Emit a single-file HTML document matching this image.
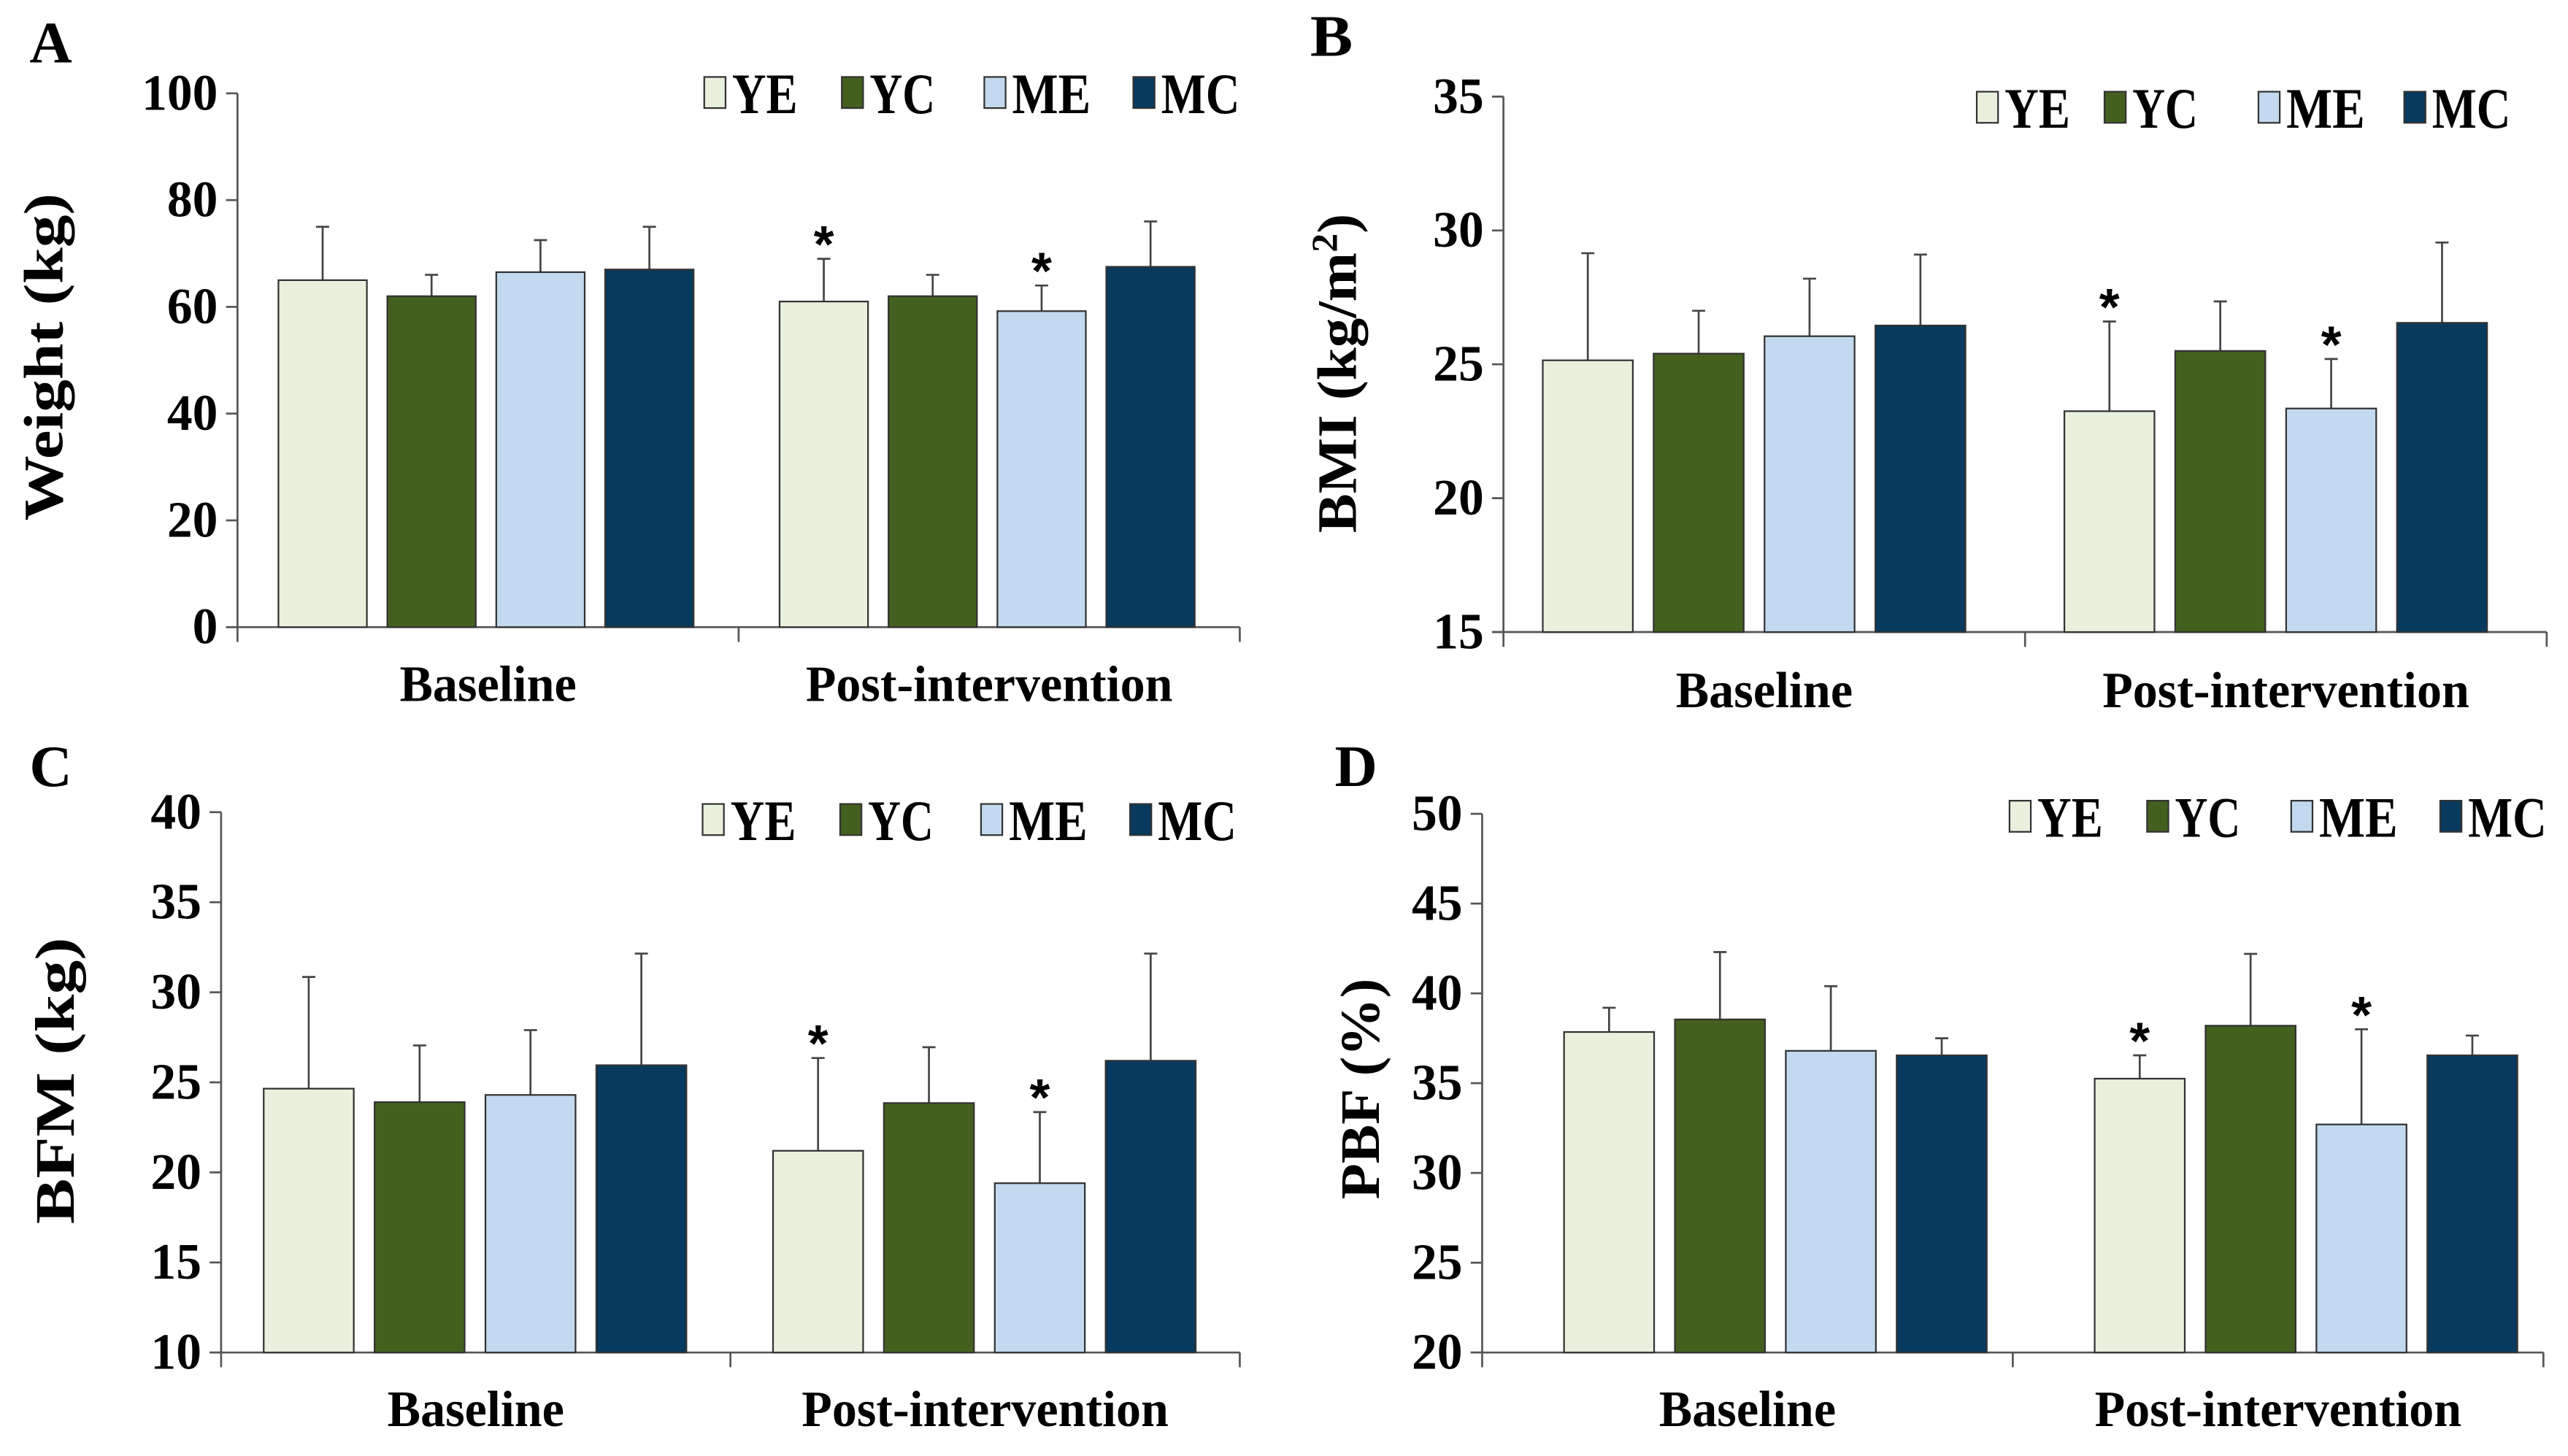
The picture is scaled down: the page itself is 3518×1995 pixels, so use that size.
<!DOCTYPE html>
<html><head><meta charset="utf-8"><style>
html,body{margin:0;padding:0;background:#fff;}
svg{display:block;}
text{font-family:"Liberation Serif",serif;font-weight:bold;fill:#000;}
</style></head>
<body>
<svg id="fig" width="3518" height="1995" viewBox="0 0 1568 889.2" xmlns="http://www.w3.org/2000/svg"></svg>
<script>
const groups = ["YE","YC","ME","MC"];
const categories = ["Baseline","Post-intervention"];
const colors = ["#e9f0de","#44601e","#c3d9ef","#073a5e"];

const weightMeans = [[65,62,66.5,67],[61,62,59.2,67.5]];
const weightErr = [[75,66,72.5,75],[69,66,64,76]];
const weightTicks = [0,20,40,60,80,100];
const weightStars = [[false,false,false,false],[true,false,true,false]];

const bmiMeans = [[25.15,25.4,26.05,26.45],[23.25,25.5,23.35,26.55]];
const bmiErr = [[29.15,27,28.2,29.1],[26.6,27.35,25.2,29.55]];
const bmiTicks = [15,20,25,30,35];
const bmiStars = [[false,false,false,false],[true,false,true,false]];

const bfmMeans = [[24.65,23.9,24.3,25.95],[21.2,23.85,19.4,26.2]];
const bfmErr = [[30.85,27.05,27.9,32.15],[26.35,26.95,23.35,32.15]];
const bfmTicks = [10,15,20,25,30,35,40];
const bfmStars = [[false,false,false,false],[true,false,true,false]];

const pbfMeans = [[37.85,38.55,36.8,36.55],[35.25,38.2,32.7,36.55]];
const pbfErr = [[39.2,42.3,40.4,37.5],[36.55,42.2,38,37.65]];
const pbfTicks = [20,25,30,35,40,45,50];
const pbfStars = [[false,false,false,false],[true,false,true,false]];

const NS="http://www.w3.org/2000/svg";
const svg=document.getElementById('fig');
function mk(tag,attrs,parent){const e=document.createElementNS(NS,tag);for(const k in attrs)e.setAttribute(k,attrs[k]);(parent||svg).appendChild(e);return e;}

function panel(cfg){
  const g=mk('g',{});
  
  
  const min=cfg.ticks[0],max=cfg.ticks[cfg.ticks.length-1];
  const y=v=>cfg.y0-(v-min)/(max-min)*(cfg.y0-cfg.y1);
  const L=mk('text',{x:cfg.lx,y:cfg.ly,'font-size':36,textLength:26,lengthAdjust:'spacingAndGlyphs'},g);L.textContent=cfg.letter;
  
  
  const ya=mk('line',{x1:cfg.ax,y1:cfg.y1,x2:cfg.ax,y2:cfg.y0+9,stroke:'#555','stroke-width':1.2},g);
  
  
  const xa=mk('line',{x1:cfg.ax-7,y1:cfg.y0,x2:cfg.xe,y2:cfg.y0,stroke:'#555','stroke-width':1.2},g);
  
  
  const mid=(cfg.ax+cfg.xe)/2;
  [mid,cfg.xe].forEach(xx=>mk('line',{x1:xx,y1:cfg.y0,x2:xx,y2:cfg.y0+9,stroke:'#555','stroke-width':1.2},g));
  cfg.ticks.forEach(t=>{
    mk('line',{x1:cfg.ax-7,y1:y(t),x2:cfg.ax,y2:y(t),stroke:'#555','stroke-width':1.2},g);
    const s=String(t);
    const tx=mk('text',{x:cfg.ax-12,y:y(t)+10,'font-size':31,'text-anchor':'end',textLength:s.length*15.5,lengthAdjust:'spacingAndGlyphs'},g);
    tx.textContent=s;
    
    
  });
  const gw=(cfg.xe-cfg.ax)/2;
  categories.forEach((c,ci)=>{
    const gx=cfg.ax+ci*gw+cfg.pad;
    const bw=cfg.bw, step=cfg.step;
    cfg.means[ci].forEach((m,si)=>{
      const bx=gx+si*step, cx=bx+bw/2;
      const eb=mk('line',{x1:cx,y1:y(cfg.err[ci][si]),x2:cx,y2:y(m),stroke:'#444','stroke-width':1.2},g);
      
      
      mk('line',{x1:cx-4,y1:y(cfg.err[ci][si]),x2:cx+4,y2:y(cfg.err[ci][si]),stroke:'#444','stroke-width':1.2},g);
      const r=mk('rect',{x:bx,y:y(m),width:bw,height:cfg.y0-y(m),fill:colors[si],stroke:'#333','stroke-width':1},g);
      
      
      if(cfg.stars[ci][si]){
        const s=mk('text',{x:cx,y:y(cfg.err[ci][si])+2,'font-size':32,'text-anchor':'middle','font-weight':'normal'},g);
        s.style.fontFamily='"Liberation Sans",sans-serif';
        s.textContent='*';
        
        
      }
    });
    const cl=mk('text',{x:cfg.ax+ci*gw+gw/2,y:cfg.cy,'font-size':31,'text-anchor':'middle',textLength:ci?224:108,lengthAdjust:'spacingAndGlyphs'},g);
    cl.textContent=c;
    
    
  });
  groups.forEach((gn,i)=>{
    const bx=cfg.legx[i];
    const lb=mk('rect',{x:bx,y:cfg.legy-9,width:13,height:19,fill:colors[i],stroke:'#333','stroke-width':1},g);
    
    
    const lt=mk('text',{x:bx+17,y:cfg.legy+13,'font-size':35,textLength:gn[0]=='M'?48:40,lengthAdjust:'spacingAndGlyphs'},g);
    lt.textContent=gn;
    
    
  });
  const yt=mk('text',{x:0,y:0,'font-size':34,'text-anchor':'middle',textLength:cfg.tl,lengthAdjust:'spacingAndGlyphs',transform:`translate(${cfg.tx},${cfg.ty}) rotate(-90)`},g);
  yt.innerHTML=cfg.title;
  
  
}

panel({letter:'A',lx:18,ly:38,ax:145,xe:757,y0:383,y1:57,ticks:weightTicks,means:weightMeans,err:weightErr,stars:weightStars,pad:25,step:66.5,bw:54,cy:428,legx:[430,514,601,692],legy:56,tx:38,ty:218,tl:200,title:'Weight (kg)'});
panel({letter:'B',lx:800,ly:34,ax:918,xe:1555,y0:386,y1:59,ticks:bmiTicks,means:bmiMeans,err:bmiErr,stars:bmiStars,pad:24,step:67.7,bw:55,cy:432,legx:[1207,1285,1379,1468],legy:65,tx:828,ty:228,tl:195,title:'BMI (kg/m<tspan font-size="22" dy="-12">2</tspan><tspan dy="12">)</tspan>'});
panel({letter:'C',lx:18,ly:480,ax:135,xe:757,y0:826,y1:496,ticks:bfmTicks,means:bfmMeans,err:bfmErr,stars:bfmStars,pad:26,step:67.7,bw:55,cy:871,legx:[429,513,599,690],legy:500,tx:45,ty:660,tl:175,title:'BFM (kg)'});
panel({letter:'D',lx:815,ly:480,ax:905,xe:1553,y0:826,y1:497,ticks:pbfTicks,means:pbfMeans,err:pbfErr,stars:pbfStars,pad:50,step:67.7,bw:55,cy:871,legx:[1227,1311,1399,1490],legy:498,tx:842,ty:665,tl:135,title:'PBF (%)'});
</script>
</body></html>
